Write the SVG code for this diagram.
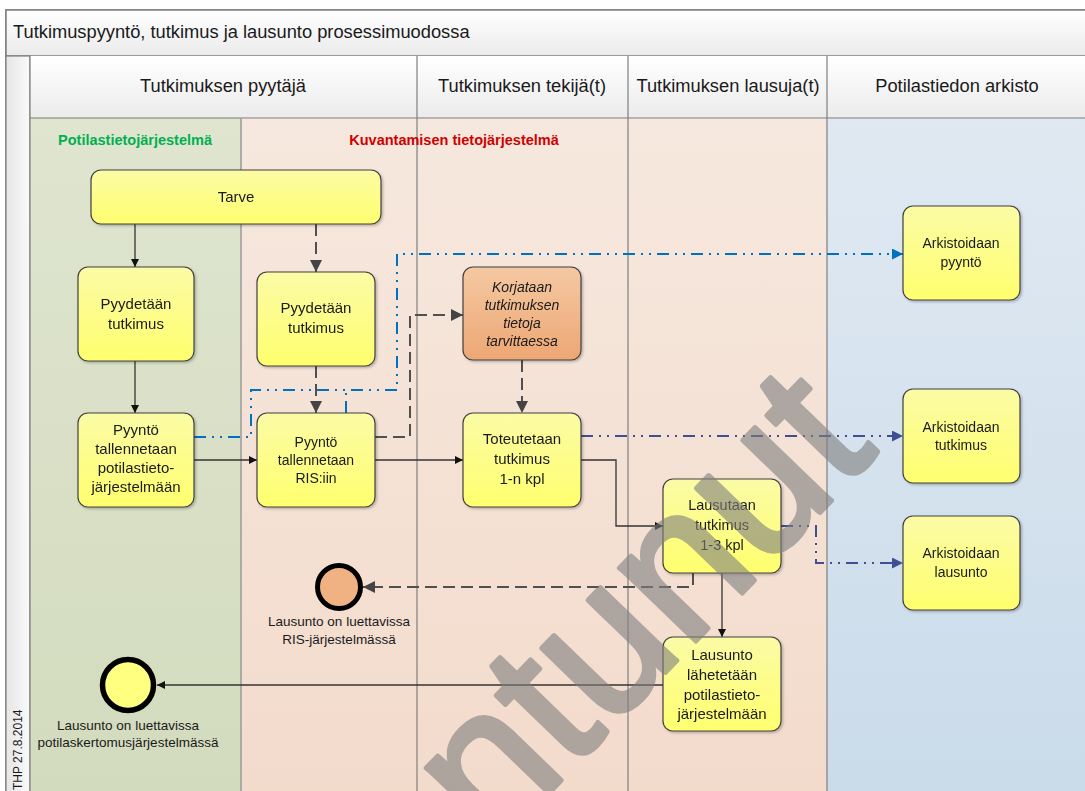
<svg xmlns="http://www.w3.org/2000/svg" width="1085" height="791" viewBox="0 0 1085 791">
<style>
text{font-family:"Liberation Sans",Arial,sans-serif;fill:#1a1a1a}
.hdr{font-size:18.3px;text-anchor:middle}
.n{font-size:15px;text-anchor:middle}
.s{font-size:14px;text-anchor:middle}
.lbl{font-size:13.5px;text-anchor:middle}
.box{fill:url(#gy);stroke:#404040;stroke-width:1.2}
.solid{fill:none;stroke:#333;stroke-width:1.3}
.dash{fill:none;stroke:#505050;stroke-width:2;stroke-dasharray:12 6}
.blue{fill:none;stroke:#0070c0;stroke-width:2;stroke-dasharray:12 6 2 6 2 6}
.dblue{fill:none;stroke:#3f4f94;stroke-width:2;stroke-dasharray:12 6 2 6 2 6}
.lane{stroke:#7f7f7f;stroke-width:1.2}
</style>
<defs>
<linearGradient id="gy" x1="0" y1="0" x2="0" y2="1"><stop offset="0" stop-color="#fbfba6"/><stop offset="1" stop-color="#ffff6e"/></linearGradient>
<linearGradient id="go" x1="0" y1="0" x2="0" y2="1"><stop offset="0" stop-color="#f5c8a2"/><stop offset="1" stop-color="#eda774"/></linearGradient>
<linearGradient id="gh" x1="0" y1="0" x2="0" y2="1"><stop offset="0" stop-color="#ffffff"/><stop offset="1" stop-color="#ebebeb"/></linearGradient>
<linearGradient id="gg" x1="0" y1="0" x2="0" y2="1"><stop offset="0" stop-color="#dfe5cf"/><stop offset="1" stop-color="#d3dbbe"/></linearGradient>
<linearGradient id="gp" x1="0" y1="0" x2="0" y2="1"><stop offset="0" stop-color="#f6e8de"/><stop offset="1" stop-color="#f3dbcc"/></linearGradient>
<linearGradient id="gb" x1="0" y1="0" x2="0" y2="1"><stop offset="0" stop-color="#e0e9f2"/><stop offset="1" stop-color="#cadbea"/></linearGradient>
<linearGradient id="gs" x1="0" y1="0" x2="1" y2="0"><stop offset="0" stop-color="#e6e6e6"/><stop offset="1" stop-color="#fafafa"/></linearGradient>
<filter id="sh" x="-10%" y="-10%" width="130%" height="130%"><feDropShadow dx="1.5" dy="1.5" stdDeviation="1.2" flood-color="#000" flood-opacity="0.25"/></filter>
<marker id="aS" viewBox="0 0 10 10" refX="10" refY="5" markerWidth="8" markerHeight="8" markerUnits="userSpaceOnUse" orient="auto"><path d="M0,0 L10,5 L0,10 Z" fill="#111"/></marker>
<marker id="aD" viewBox="0 0 10 10" refX="10" refY="5" markerWidth="13" markerHeight="12" markerUnits="userSpaceOnUse" orient="auto"><path d="M0,0 L10,5 L0,10 Z" fill="#444"/></marker>
<marker id="aB" viewBox="0 0 10 10" refX="10" refY="5" markerWidth="12" markerHeight="11" markerUnits="userSpaceOnUse" orient="auto"><path d="M0,0 L10,5 L0,10 Z" fill="#0070c0"/></marker>
<marker id="aDB" viewBox="0 0 10 10" refX="10" refY="5" markerWidth="12" markerHeight="11" markerUnits="userSpaceOnUse" orient="auto"><path d="M0,0 L10,5 L0,10 Z" fill="#3f4f94"/></marker>
</defs>

<g id="frame">
<rect x="6" y="10" width="1085" height="790" fill="#fff" stroke="#7f7f7f" stroke-width="1.5"/>
<rect x="6" y="10" width="1085" height="46" fill="url(#gh)" stroke="#7f7f7f" stroke-width="1.5"/>
<text x="13" y="38" style="font-size:18.3px">Tutkimuspyyntö, tutkimus ja lausunto prosessimuodossa</text>
<rect x="6" y="56" width="24" height="740" fill="url(#gs)" stroke="#7f7f7f" stroke-width="1.2"/>
<text transform="translate(22,790) rotate(-90)" style="font-size:12px">THP 27.8.2014</text>
</g>

<g id="lanes">
<rect x="30" y="56" width="1060" height="62" fill="url(#gh)"/>
<rect x="30" y="118" width="211" height="680" fill="url(#gg)"/>
<rect x="241" y="118" width="586" height="680" fill="url(#gp)"/>
<rect x="827" y="118" width="260" height="680" fill="url(#gb)"/>
<line class="lane" x1="30" y1="118" x2="1085" y2="118" stroke-width="1.5"/>
<line class="lane" x1="30" y1="56" x2="30" y2="791" stroke-width="1.5"/>
<line x1="241" y1="118" x2="241" y2="791" stroke="#9a9a9a" stroke-width="1.5"/>
<line class="lane" x1="417" y1="56" x2="417" y2="791"/>
<line class="lane" x1="628" y1="56" x2="628" y2="791"/>
<line class="lane" x1="827" y1="56" x2="827" y2="791" stroke-width="1.5"/>
<text class="hdr" x="223" y="92">Tutkimuksen pyytäjä</text>
<text class="hdr" x="522" y="92">Tutkimuksen tekijä(t)</text>
<text class="hdr" x="728" y="92">Tutkimuksen lausuja(t)</text>
<text class="hdr" x="957" y="92">Potilastiedon arkisto</text>
<text x="135" y="145" style="font-size:14.5px;font-weight:bold;fill:#00b050;text-anchor:middle">Potilastietojärjestelmä</text>
<text x="454" y="145" style="font-size:14.5px;font-weight:bold;fill:#d00000;text-anchor:middle">Kuvantamisen tietojärjestelmä</text>
</g>

<g id="connectors">
<path class="solid" d="M135,224 V267" marker-end="url(#aS)"/>
<path class="dash" d="M316,224 V272" marker-end="url(#aD)"/>
<path class="solid" d="M135,361 V413" marker-end="url(#aS)"/>
<path class="dash" d="M316,366 V413" marker-end="url(#aD)"/>
<path class="solid" d="M194,460 H257" marker-end="url(#aS)"/>
<path class="solid" d="M375,460 H463" marker-end="url(#aS)"/>
<path class="dash" d="M375,437 H410 V315 H463" marker-end="url(#aD)"/>
<path class="dash" d="M522,360 V413" marker-end="url(#aD)"/>
<path class="solid" d="M581,460 H616 V526 H663" marker-end="url(#aS)"/>
<path class="solid" d="M722,573 V637" marker-end="url(#aS)"/>
<path class="dash" d="M693,573 V587 H363" marker-end="url(#aD)"/>
<path class="solid" d="M663,685 H157" marker-end="url(#aS)"/>
<path class="blue" d="M194,437 H251 V390 H397 V254 H903" marker-end="url(#aB)"/>
<path class="blue" d="M346,413 V390"/>
<path class="dblue" d="M581,436 H903" marker-end="url(#aDB)"/>
<path class="dblue" d="M781,526 H816 V563 H903" marker-end="url(#aDB)"/>
</g>

<g id="tarve" filter="url(#sh)"><rect class="box" x="91" y="170" width="290" height="54" rx="10"/><text class="n" x="236" y="202">Tarve</text></g>
<g id="pyydetaan1" filter="url(#sh)"><rect class="box" x="78" y="267" width="116" height="94" rx="10"/><text class="n" x="136" y="309">Pyydetään</text><text class="n" x="136" y="329">tutkimus</text></g>
<g id="pyydetaan2" filter="url(#sh)"><rect class="box" x="257" y="272" width="118" height="94" rx="10"/><text class="n" x="316" y="313">Pyydetään</text><text class="n" x="316" y="333">tutkimus</text></g>
<g id="korjataan" filter="url(#sh)"><rect x="463" y="267" width="118" height="93" rx="10" fill="url(#go)" stroke="#404040" stroke-width="1.2"/>
<text class="s" x="522" y="292" font-style="italic">Korjataan</text><text class="s" x="522" y="310" font-style="italic">tutkimuksen</text><text class="s" x="522" y="328" font-style="italic">tietoja</text><text class="s" x="522" y="346" font-style="italic">tarvittaessa</text></g>
<g id="pyynto1" filter="url(#sh)"><rect class="box" x="78" y="413" width="116" height="94" rx="10"/><text class="n" x="136" y="435">Pyyntö</text><text class="n" x="136" y="454">tallennetaan</text><text class="n" x="136" y="473">potilastieto-</text><text class="n" x="136" y="492">järjestelmään</text></g>
<g id="pyynto2" filter="url(#sh)"><rect class="box" x="257" y="413" width="118" height="94" rx="10"/><text class="s" x="316" y="447">Pyyntö</text><text class="s" x="316" y="465">tallennetaan</text><text class="s" x="316" y="483">RIS:iin</text></g>
<g id="toteutetaan" filter="url(#sh)"><rect class="box" x="463" y="413" width="118" height="94" rx="10"/><text class="n" x="522" y="444">Toteutetaan</text><text class="n" x="522" y="464">tutkimus</text><text class="n" x="522" y="484">1-n kpl</text></g>
<g id="lausutaan" filter="url(#sh)"><rect class="box" x="663" y="479" width="118" height="94" rx="10"/><text class="n" x="722" y="510" style="font-size:14.5px">Lausutaan</text><text class="n" x="722" y="530" style="font-size:14.5px">tutkimus</text><text class="n" x="722" y="550" style="font-size:14.5px">1-3 kpl</text></g>
<g id="lahetetaan" filter="url(#sh)"><rect class="box" x="663" y="637" width="118" height="94" rx="10"/><text class="n" x="722" y="660">Lausunto</text><text class="n" x="722" y="680">lähetetään</text><text class="n" x="722" y="700">potilastieto-</text><text class="n" x="722" y="719">järjestelmään</text></g>
<g id="ark-pyynto" filter="url(#sh)"><rect class="box" x="903" y="206" width="117" height="94" rx="10"/><text class="s" x="961" y="248">Arkistoidaan</text><text class="s" x="961" y="267">pyyntö</text></g>
<g id="ark-tutkimus" filter="url(#sh)"><rect class="box" x="903" y="389" width="117" height="94" rx="10"/><text class="s" x="961" y="432">Arkistoidaan</text><text class="s" x="961" y="450">tutkimus</text></g>
<g id="ark-lausunto" filter="url(#sh)"><rect class="box" x="903" y="516" width="117" height="94" rx="10"/><text class="s" x="961" y="558">Arkistoidaan</text><text class="s" x="961" y="577">lausunto</text></g>
<g id="end-ris"><circle cx="339" cy="587" r="21.5" fill="#f0b283" stroke="#000" stroke-width="5"/><text class="lbl" x="339" y="626">Lausunto on luettavissa</text><text class="lbl" x="339" y="644">RIS-järjestelmässä</text></g>
<g id="end-pot"><circle cx="128" cy="685" r="25.5" fill="#ffff80" stroke="#000" stroke-width="5.5"/><text class="lbl" x="128" y="730">Lausunto on luettavissa</text><text class="lbl" x="128" y="747">potilaskertomusjärjestelmässä</text></g>

<g id="watermark" opacity="0.6"><text transform="translate(493,851) rotate(-46)" style="font-size:200px;fill:#7f7f7f;stroke:#7f7f7f;stroke-width:5;stroke-linejoin:round">ntunut</text></g>
</svg>
